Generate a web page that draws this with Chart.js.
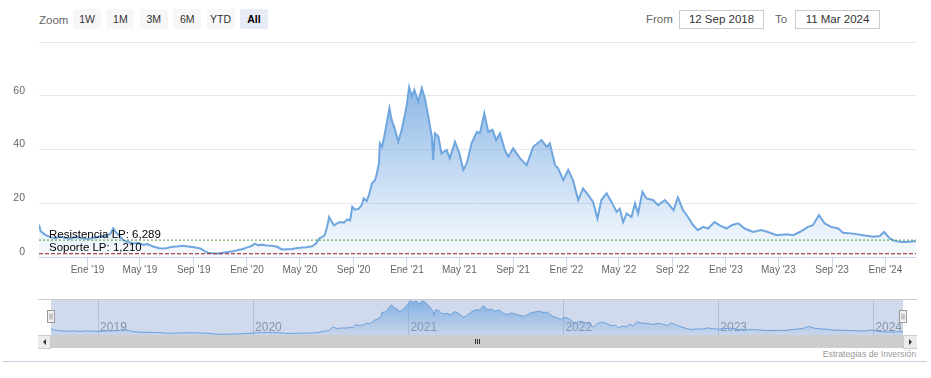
<!DOCTYPE html>
<html>
<head>
<meta charset="utf-8">
<script src="https://cdn.jsdelivr.net/npm/chart.js@4.4.1/dist/chart.umd.min.js"></script>
<style>
    body { margin: 0; background: #fff; font-family: "Liberation Sans", Arial, sans-serif; }
    #wrap { position: relative; width: 931px; height: 378px; overflow: hidden; }
    .abs { position: absolute; }
    .txt { line-height: 20px; font-size: 11.5px; color: #666; }
    .btn { top: 9px; width: 28px; height: 20px; line-height: 20px; text-align: center;
           font-size: 10.5px; color: #333; background: #f7f7f7; border-radius: 2px; }
    .btn.sel { background: #e6ebf5; color: #000; font-weight: bold; }
    .box { top: 10px; width: 83px; height: 17px; line-height: 17px; border: 1px solid #cccccc;
           text-align: center; font-size: 11.5px; color: #333; }
    #principal { left: 0; top: 0; }
    #navegador { left: 0; top: 299px; }
</style>
</head>
<body>
<div id="wrap">
    <div class="abs txt" style="left:39px;top:10px">Zoom</div>
    <div id="botones"></div>
    <div class="abs txt" style="left:646px;top:9px">From</div>
    <div class="abs box" style="left:679px">12 Sep 2018</div>
    <div class="abs txt" style="left:775px;top:9px">To</div>
    <div class="abs box" style="left:795px">11 Mar 2024</div>

    <canvas id="principal" class="abs" width="931" height="282"></canvas>
    <canvas id="navegador" class="abs" width="931" height="36"></canvas>

    <!-- scrollbar -->
    <div class="abs" style="left:38px;top:335px;width:879px;height:13px;background:#f2f2f2"></div>
    <div class="abs" style="left:51px;top:335px;width:852px;height:13px;background:#cdcdcd"></div>
    <div class="abs" style="left:38px;top:335px;width:12px;height:12px;background:#ebebeb;border:1px solid #cccccc;border-left:none"></div>
    <div class="abs" style="left:903px;top:335px;width:13px;height:12px;background:#ebebeb;border:1px solid #cccccc;border-right:none"></div>
    <div class="abs" style="left:43px;top:339px;width:0;height:0;border-top:3px solid transparent;border-bottom:3px solid transparent;border-right:3px solid #333"></div>
    <div class="abs" style="left:909px;top:339px;width:0;height:0;border-top:3px solid transparent;border-bottom:3px solid transparent;border-left:3px solid #333"></div>
    <div class="abs" style="left:475px;top:339px;width:1px;height:5px;background:#333"></div>
    <div class="abs" style="left:477px;top:339px;width:1px;height:5px;background:#333"></div>
    <div class="abs" style="left:479px;top:339px;width:1px;height:5px;background:#333"></div>

    <div class="abs" style="right:15px;top:349px;font-size:8.7px;color:#999">Estrategias de Inversión</div>
    <div class="abs" style="left:3px;top:361px;width:924px;height:1px;background:#cdcde0"></div>
</div>

<script>
// precio de cierre (aprox.)
const fechas = [
    '2018-09-12', '2018-09-16', '2018-09-22', '2018-09-28', '2018-10-08', '2018-10-19', '2018-10-30',
    '2018-11-11', '2018-11-22', '2018-12-06', '2018-12-20', '2019-01-03', '2019-01-16', '2019-01-30',
    '2019-02-13', '2019-02-22', '2019-03-01', '2019-03-08', '2019-03-17', '2019-03-24', '2019-04-04',
    '2019-04-15', '2019-04-27', '2019-05-09', '2019-05-18', '2019-05-31', '2019-06-16', '2019-06-30',
    '2019-07-14', '2019-07-25', '2019-08-08', '2019-08-19', '2019-09-02', '2019-09-16', '2019-09-27',
    '2019-10-04', '2019-10-15', '2019-10-27', '2019-11-07', '2019-11-19', '2019-11-30', '2019-12-12',
    '2019-12-23', '2020-01-01', '2020-01-10', '2020-01-19', '2020-01-26', '2020-02-04', '2020-02-16',
    '2020-02-27', '2020-03-10', '2020-03-21', '2020-04-02', '2020-04-13', '2020-04-24', '2020-05-06',
    '2020-05-17', '2020-05-29', '2020-06-07', '2020-06-14', '2020-06-21', '2020-06-27', '2020-07-02',
    '2020-07-07', '2020-07-11', '2020-07-18', '2020-07-25', '2020-08-01', '2020-08-10', '2020-08-17',
    '2020-08-24', '2020-08-29', '2020-09-04', '2020-09-13', '2020-09-20', '2020-09-24', '2020-10-01',
    '2020-10-06', '2020-10-13', '2020-10-20', '2020-10-24', '2020-10-29', '2020-10-31', '2020-11-05',
    '2020-11-10', '2020-11-13', '2020-11-16', '2020-11-22', '2020-11-27', '2020-12-05', '2020-12-12',
    '2020-12-20', '2020-12-28', '2021-01-01', '2021-01-06', '2021-01-12', '2021-01-18', '2021-01-27',
    '2021-02-04', '2021-02-11', '2021-02-19', '2021-02-27', '2021-03-02', '2021-03-06', '2021-03-14',
    '2021-03-21', '2021-04-02', '2021-04-09', '2021-04-21', '2021-05-01', '2021-05-10', '2021-05-18',
    '2021-05-29', '2021-06-10', '2021-06-17', '2021-06-27', '2021-07-06', '2021-07-16', '2021-07-24',
    '2021-08-02', '2021-08-13', '2021-08-21', '2021-09-01', '2021-09-17', '2021-10-02', '2021-10-17',
    '2021-11-05', '2021-11-17', '2021-11-24', '2021-12-06', '2021-12-13', '2021-12-25', '2022-01-05',
    '2022-01-16', '2022-01-28', '2022-02-08', '2022-02-20', '2022-03-03', '2022-03-13', '2022-03-22',
    '2022-04-03', '2022-04-14', '2022-04-26', '2022-05-03', '2022-05-11', '2022-05-19', '2022-05-30',
    '2022-06-07', '2022-06-14', '2022-06-24', '2022-07-03', '2022-07-18', '2022-07-30', '2022-08-14',
    '2022-08-25', '2022-09-03', '2022-09-13', '2022-09-25', '2022-10-06', '2022-10-18', '2022-10-29',
    '2022-11-10', '2022-11-21', '2022-12-06', '2022-12-18', '2023-01-02', '2023-01-14', '2023-01-29',
    '2023-02-13', '2023-03-04', '2023-03-23', '2023-04-07', '2023-04-27', '2023-05-20', '2023-06-04',
    '2023-06-19', '2023-07-08', '2023-07-19', '2023-08-02', '2023-08-15', '2023-08-30', '2023-09-15',
    '2023-09-26', '2023-10-19', '2023-11-11', '2023-12-04', '2023-12-19', '2023-12-29', '2024-01-11',
    '2024-01-22', '2024-02-06', '2024-02-21', '2024-03-11'
];
const precios = [
    12.0, 9.6, 8.8, 8.1, 7.4, 7.0, 7.6,
    7.2, 6.8, 7.4, 7.0, 6.7, 7.2, 7.6,
    7.9, 8.6, 10.7, 9.0, 7.6, 6.2, 5.6,
    5.0, 5.2, 4.6, 4.8, 3.9, 3.2, 3.3,
    3.8, 3.9, 4.2, 3.9, 3.6, 3.2, 2.1,
    1.6, 1.4, 1.3, 1.6, 1.9, 2.1, 2.6,
    3.0, 3.6, 4.0, 5.0, 4.4, 4.6, 4.3,
    4.2, 3.8, 2.8, 2.9, 3.0, 3.3, 3.5,
    3.6, 4.0, 5.0, 6.9, 7.4, 8.1, 11.0,
    14.9, 13.6, 11.8, 12.5, 13.0, 12.8, 14.0,
    13.6, 18.7, 17.6, 18.0, 19.5, 21.8, 20.8,
    23.0, 27.4, 28.6, 31.0, 34.9, 42.3, 41.0,
    44.8, 47.3, 50.0, 55.4, 51.0, 47.3, 42.9,
    47.3, 53.5, 57.0, 63.2, 59.7, 62.2, 57.8,
    62.8, 59.1, 52.2, 44.8, 36.1, 46.0, 44.8,
    38.6, 39.8, 36.7, 42.9, 38.6, 32.4, 34.9,
    42.3, 46.6, 46.0, 53.5, 46.6, 47.3, 43.5,
    46.0, 39.8, 37.3, 40.4, 36.7, 34.2, 41.0,
    43.5, 41.0, 42.3, 34.2, 33.0, 28.6, 32.4,
    28.6, 21.2, 25.5, 23.0, 20.5, 14.3, 21.2,
    23.7, 20.5, 16.8, 18.0, 13.0, 16.2, 14.9,
    19.9, 16.2, 24.3, 21.8, 21.2, 19.3, 21.2,
    19.3, 17.4, 22.2, 17.4, 14.9, 11.8, 10.0,
    11.2, 10.6, 13.0, 11.8, 10.6, 11.8, 12.5,
    10.6, 9.3, 10.0, 9.3, 8.1, 8.5, 8.1,
    9.3, 11.2, 11.8, 15.6, 12.5, 11.2, 10.6,
    9.0, 8.7, 8.1, 7.5, 7.8, 9.3, 6.9,
    6.0, 5.6, 5.6, 6.0
];

const inicio = '2018-09-12';
const fin = '2024-03-11';

const ticksFechas = ['2019-01-01', '2019-05-01', '2019-09-01', '2020-01-01', '2020-05-01', '2020-09-01',
    '2021-01-01', '2021-05-01', '2021-09-01', '2022-01-01', '2022-05-01', '2022-09-01',
    '2023-01-01', '2023-05-01', '2023-09-01', '2024-01-01'];
const ticksEtiquetas = ["Ene '19", "May '19", "Sep '19", "Ene '20", "May '20", "Sep '20",
    "Ene '21", "May '21", "Sep '21", "Ene '22", "May '22", "Sep '22",
    "Ene '23", "May '23", "Sep '23", "Ene '24"];
const ejeY = [0, 20, 40, 60, 80];

const aniosFechas = ['2019-01-01', '2020-01-01', '2021-01-01', '2022-01-01', '2023-01-01', '2024-01-01'];
const aniosEtiquetas = ['2019', '2020', '2021', '2022', '2023', '2024'];

const nivelesNombres = ['Resistencia LP', 'Soporte LP'];
const nivelesValores = [6.289, 1.210];

const botones = ['1W', '1M', '3M', '6M', 'YTD', 'All'];

const FUENTE = '"Liberation Sans", Arial, sans-serif';

// dias desde el inicio de la serie
const dia = (s) => {
    const [a, m, d] = s.split('-').map(Number);
    const [a0, m0, d0] = inicio.split('-').map(Number);
    return (Date.UTC(a, m - 1, d) - Date.UTC(a0, m0 - 1, d0)) / 864e5;
};

const puntos = fechas.map((f, i) => ({ x: dia(f), y: precios[i] }));
const xMax = dia(fin);

// botones del zoom
const cont = document.getElementById('botones');
botones.forEach((b, i) => {
    const el = document.createElement('div');
    el.className = 'abs btn' + (b === 'All' ? ' sel' : '');
    el.style.left = (73 + i * 33.4) + 'px';
    el.textContent = b;
    cont.appendChild(el);
});

function degradado(chart, stops) {
    const { ctx, chartArea } = chart;
    if (!chartArea) return 'rgba(115,168,225,0.4)';
    const g = ctx.createLinearGradient(0, chartArea.top, 0, chartArea.bottom);
    stops.forEach(([p, a]) => g.addColorStop(p, `rgba(115,168,225,${a})`));
    return g;
}

const etiquetasNiveles = {
    id: 'etiquetasNiveles',
    afterDatasetsDraw(chart) {
        const { ctx, chartArea, scales } = chart;
        ctx.save();
        ctx.font = '11.5px ' + FUENTE;
        ctx.fillStyle = '#000';
        ctx.textBaseline = 'alphabetic';
        nivelesNombres.forEach((n, i) => {
            const v = nivelesValores[i];
            const texto = n + ': ' + v.toFixed(3).replace('.', ',');
            ctx.fillText(texto, chartArea.left + 10, scales.y.getPixelForValue(v) - 2.5);
        });
        ctx.restore();
    }
};

new Chart(document.getElementById('principal'), {
    type: 'line',
    data: {
        datasets: [
            {
                label: 'Precio',
                data: puntos,
                borderColor: '#6fa6df',
                borderWidth: 2,
                pointRadius: 0,
                tension: 0,
                fill: 'origin',
                backgroundColor: (c) => degradado(c.chart, [[0, 0.9], [0.3, 0.72], [0.85, 0.18], [1, 0.05]]),
                order: 2
            },
            {
                label: nivelesNombres[0],
                data: [{ x: 0, y: nivelesValores[0] }, { x: xMax, y: nivelesValores[0] }],
                borderColor: '#4e9a3a',
                borderWidth: 1,
                borderDash: [2, 2],
                pointRadius: 0,
                fill: false,
                order: 1
            },
            {
                label: nivelesNombres[1],
                data: [{ x: 0, y: nivelesValores[1] }, { x: xMax, y: nivelesValores[1] }],
                borderColor: '#9b1b1b',
                borderWidth: 1,
                borderDash: [4, 2],
                pointRadius: 0,
                fill: false,
                order: 1
            }
        ]
    },
    options: {
        responsive: false,
        animation: false,
        layout: { padding: { top: 42, right: 15, left: 0, bottom: 0 } },
        plugins: { legend: { display: false }, tooltip: { enabled: false } },
        scales: {
            x: {
                type: 'linear',
                min: 0,
                max: xMax,
                afterBuildTicks: (s) => { s.ticks = ticksFechas.map(f => ({ value: dia(f) })); },
                afterFit: (s) => { s.height = 25; },
                ticks: {
                    autoSkip: false,
                    maxRotation: 0,
                    padding: -2.5,
                    color: '#666',
                    font: { family: FUENTE, size: 10 },
                    callback: (v, i) => ticksEtiquetas[i]
                },
                grid: { drawOnChartArea: false, tickLength: 10, color: '#ccd6eb' },
                border: { color: '#ccd6eb' }
            },
            y: {
                min: 0,
                max: 80,
                afterBuildTicks: (s) => { s.ticks = ejeY.map(v => ({ value: v })); },
                afterFit: (s) => { s.width = 39; },
                ticks: {
                    padding: 14,
                    labelOffset: -5,
                    color: '#666',
                    font: { family: FUENTE, size: 10.5 },
                    callback: (v) => (v === 80 ? '' : v)
                },
                grid: { color: '#e6e6e6', drawTicks: false },
                border: { display: false }
            }
        }
    },
    plugins: [etiquetasNiveles]
});

// navegador
const decoNavegador = {
    id: 'decoNavegador',
    beforeDatasetsDraw(chart) {
        const { ctx, chartArea: a } = chart;
        ctx.save();
        ctx.fillStyle = 'rgba(102,133,194,0.3)';
        ctx.fillRect(a.left, a.top, a.right - a.left, a.bottom - a.top);
        ctx.restore();
    },
    afterDraw(chart) {
        const { ctx, chartArea: a } = chart;
        ctx.save();
        ctx.strokeStyle = '#cccccc';
        ctx.lineWidth = 1;
        ctx.beginPath();
        ctx.moveTo(38, a.top + 0.5);
        ctx.lineTo(917, a.top + 0.5);
        ctx.stroke();
        [a.left, a.right].forEach((x) => {
            const px = Math.round(x) - 3.5;
            ctx.fillStyle = '#f2f2f2';
            ctx.strokeStyle = '#999999';
            ctx.fillRect(px, 11.5, 7, 12);
            ctx.strokeRect(px, 11.5, 7, 12);
            ctx.beginPath();
            ctx.moveTo(px + 2.5, 14.5); ctx.lineTo(px + 2.5, 20.5);
            ctx.moveTo(px + 4.5, 14.5); ctx.lineTo(px + 4.5, 20.5);
            ctx.stroke();
        });
        ctx.restore();
    }
};

new Chart(document.getElementById('navegador'), {
    type: 'line',
    data: {
        datasets: [{
            data: puntos,
            borderColor: '#6a9fd8',
            borderWidth: 1,
            pointRadius: 0,
            tension: 0,
            fill: 'origin',
            backgroundColor: (c) => degradado(c.chart, [[0, 0.85], [1, 0.1]])
        }]
    },
    options: {
        responsive: false,
        animation: false,
        layout: { padding: { top: 0, right: 28, left: 51, bottom: 0 } },
        plugins: { legend: { display: false }, tooltip: { enabled: false } },
        scales: {
            x: {
                type: 'linear',
                min: 0,
                max: xMax,
                afterBuildTicks: (s) => { s.ticks = aniosFechas.map(f => ({ value: dia(f) })); },
                afterFit: (s) => { s.height = 0; },
                ticks: {
                    autoSkip: false,
                    maxRotation: 0,
                    align: 'start',
                    mirror: true,
                    labelOffset: 2,
                    padding: 0,
                    color: '#999',
                    font: { family: FUENTE, size: 12 },
                    callback: (v, i) => aniosEtiquetas[i]
                },
                grid: { color: '#d5d9e2', drawTicks: false },
                border: { display: false }
            },
            y: { display: false, min: 0, max: 66 }
        }
    },
    plugins: [decoNavegador]
});
</script>
</body>
</html>
